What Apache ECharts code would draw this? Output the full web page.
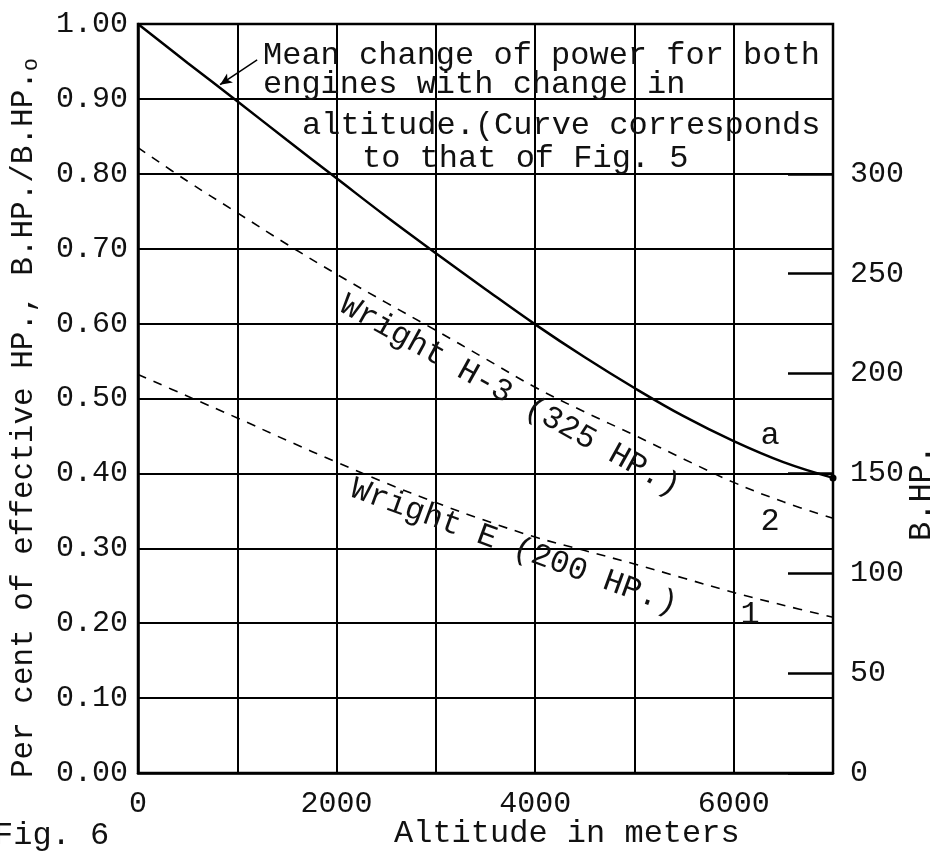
<!DOCTYPE html>
<html>
<head>
<meta charset="utf-8">
<script src="https://cdn.jsdelivr.net/npm/echarts@6/dist/echarts.min.js"></script>
<style>
html,body{margin:0;padding:0;background:#fff;}
#chart{width:940px;height:853px;}
</style>
</head>
<body>
<div id="chart"></div>
<script>
// ---- data ----
const altitude = [0, 500, 1000, 1500, 2000, 2500, 3000, 3500, 4000, 4500, 5000, 5500, 6000, 6500, 7000];
const meanChange = [1.00, 0.948, 0.897, 0.845, 0.794, 0.743, 0.694, 0.646, 0.599, 0.555, 0.514, 0.476, 0.443, 0.415, 0.394];
const wrightH3 = [0.835, 0.790, 0.748, 0.706, 0.666, 0.628, 0.591, 0.553, 0.515, 0.482, 0.451, 0.419, 0.388, 0.362, 0.340];
const wrightE = [0.532, 0.503, 0.474, 0.444, 0.415, 0.387, 0.361, 0.337, 0.315, 0.297, 0.279, 0.260, 0.241, 0.224, 0.208];
const xLabelValues = [0, 2000, 4000, 6000];
const rightTicks = [0, 50, 100, 150, 200, 250, 300];
const arrowFrom = [1200, 0.952];
const arrowTo = [826, 0.919];

const FONT = '"Liberation Mono", "DejaVu Sans Mono", monospace';
const pairs = a => altitude.map((x, i) => [x, a[i]]);

const chart = echarts.init(document.getElementById('chart'), null, {renderer: 'canvas'});

function txt(text, x, y, opts) {
  return Object.assign({
    type: 'text', x: x, y: y, z: 100,
    style: Object.assign({text: text, font: '32px ' + FONT, fill: '#111', align: 'left', verticalAlign: 'middle'}, (opts && opts.style) || {})
  }, opts && opts.rotation !== undefined ? {rotation: opts.rotation} : {});
}

const option = {
  backgroundColor: '#fff',
  animation: false,
  grid: {
    left: 138, right: 107, top: 24, bottom: 80,
    show: true, borderColor: '#000', borderWidth: 2.5, backgroundColor: 'transparent',
    containLabel: false, outerBoundsMode: 'none'
  },
  xAxis: {
    type: 'value', min: 0, max: 7000, interval: 1000,
    axisLine: {show: true, lineStyle: {color: '#000', width: 2.5}},
    axisTick: {show: false},
    splitLine: {show: true, lineStyle: {color: '#000', width: 2}},
    axisLabel: {
      margin: 16, color: '#111', fontFamily: FONT, fontSize: 30,
      formatter: v => xLabelValues.includes(v) ? String(v) : ''
    }
  },
  yAxis: [
    {
      type: 'value', min: 0, max: 1, interval: 0.1, position: 'left',
      axisLine: {show: true, lineStyle: {color: '#000', width: 2.5}},
      axisTick: {show: false},
      splitLine: {show: true, lineStyle: {color: '#000', width: 2}},
      axisLabel: {margin: 10, color: '#111', fontFamily: FONT, fontSize: 30, formatter: v => v.toFixed(2)}
    },
    {
      type: 'value', min: 0, max: 375, interval: 50, position: 'right',
      axisLine: {show: false},
      splitLine: {show: false},
      axisTick: {show: true, inside: true, length: 45, customValues: rightTicks, lineStyle: {color: '#000', width: 2.5}},
      axisLabel: {margin: 17, color: '#111', fontFamily: FONT, fontSize: 30, customValues: rightTicks,
        formatter: v => rightTicks.includes(v) ? String(v) : ''}
    }
  ],
  series: [
    {
      name: 'Mean change', type: 'line', data: pairs(meanChange), smooth: 0.4,
      showSymbol: false, lineStyle: {color: '#000', width: 2.5}, z: 5,
      markLine: {
        silent: true, symbol: ['none', 'arrow'], symbolSize: [8, 12],
        label: {show: false},
        lineStyle: {color: '#000', width: 1.5, type: 'solid'},
        data: [[{coord: arrowFrom}, {coord: arrowTo}]]
      },
      markPoint: {
        symbol: 'circle', symbolSize: 7, itemStyle: {color: '#000'}, label: {show: false},
        data: [{coord: [altitude[altitude.length - 1], meanChange[meanChange.length - 1]]}]
      }
    },
    {
      name: 'Wright H-3', type: 'line', data: pairs(wrightH3), smooth: 0.4,
      showSymbol: false, lineStyle: {color: '#000', width: 1.6, type: [9, 8]}, z: 5
    },
    {
      name: 'Wright E', type: 'line', data: pairs(wrightE), smooth: 0.4,
      showSymbol: false, lineStyle: {color: '#000', width: 1.6, type: [9, 8]}, z: 5
    }
  ],
  graphic: [
    txt('Mean change of power for both', 263, 56),
    txt('engines with change in', 263, 85),
    txt('altitude.(Curve corresponds', 302, 126),
    txt('to that of Fig. 5', 362, 159),
    txt('Fig. 6', -6, 836),
    txt('Altitude in meters', 394, 834),
    {
      type: 'text', x: 24, y: 418, rotation: Math.PI / 2, z: 100,
      style: {
        text: '{a|Per cent of effective HP., B.HP./B.HP.}{s|o}',
        align: 'center', verticalAlign: 'middle', fill: '#111',
        rich: {
          a: {font: '31px ' + FONT, fill: '#111'},
          s: {font: '22px ' + FONT, fill: '#111', verticalAlign: 'bottom', padding: [14, 0, 0, 0]}
        }
      }
    },
    txt('B.HP.', 922, 493, {rotation: Math.PI / 2, style: {align: 'center'}}),
    txt('Wright H-3 (325 HP.)', 510, 396, {rotation: -29 * Math.PI / 180, style: {align: 'center'}}),
    txt('Wright E (200 HP.)', 514, 547, {rotation: -20 * Math.PI / 180, style: {align: 'center'}}),
    txt('a', 770, 436, {style: {align: 'center'}}),
    txt('2', 770, 522, {style: {align: 'center'}}),
    txt('1', 750, 615, {style: {align: 'center'}})
  ]
};
chart.setOption(option);
</script>
</body>
</html>
